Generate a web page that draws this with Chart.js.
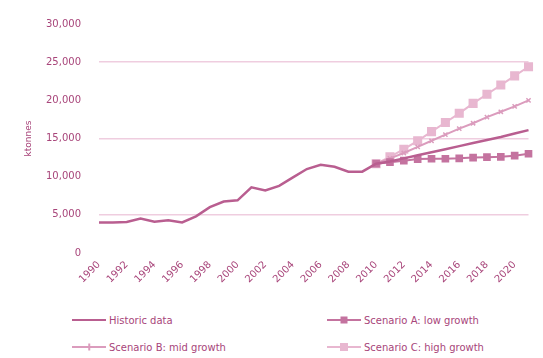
<!DOCTYPE html>
<html>
<head>
<meta charset="utf-8">
<script src="https://cdn.jsdelivr.net/npm/chart.js@4"></script>
<style>
  html, body { margin: 0; padding: 0; background: #fff; }
  #wrap { position: relative; width: 543px; height: 358px; }
  #chartBox { position: absolute; left: 0; top: 0; width: 543px; height: 305px; }
  #legend { position: absolute; left: 0; top: 305px; width: 543px; height: 53px;
            font: 10px "DejaVu Sans", sans-serif; color: #a8457a; }
  .item { position: absolute; display: flex; align-items: center; height: 14px; }
  .sample { position: relative; width: 34px; height: 14px; margin-right: 3px; }
  .sample .ln { position: absolute; left: 0; right: 0; top: 6px; height: 2px; }
  .sample .mk { position: absolute; left: 50%; top: 50%; transform: translate(-50%, -50%); }
</style>
</head>
<body>
<div id="wrap">
  <div id="chartBox"><canvas id="c"></canvas></div>
  <div id="legend"></div>
</div>
<script>
// Years on the category axis
const years = [1990, 1991, 1992, 1993, 1994, 1995, 1996, 1997, 1998, 1999,
               2000, 2001, 2002, 2003, 2004, 2005, 2006, 2007, 2008, 2009,
               2010, 2011, 2012, 2013, 2014, 2015, 2016, 2017, 2018, 2019,
               2020, 2021];

// Recorded values followed by the trend continuation
const trend = [4000, 4000, 4050, 4500, 4100, 4300, 4000, 4800, 6000, 6750,
               6900, 8600, 8200, 8800, 9900, 11000, 11550, 11300, 10650, 10650,
               11700, 12000, 12400, 12800, 13200, 13600, 14000, 14400, 14800, 15200,
               15650, 16100];

const lowGrowth = [null, null, null, null, null, null, null, null, null, null,
                   null, null, null, null, null, null, null, null, null, null,
                   11700, 11900, 12100, 12300, 12350, 12350, 12400, 12500, 12550, 12600,
                   12750, 13000];

const midGrowth = [null, null, null, null, null, null, null, null, null, null,
                   null, null, null, null, null, null, null, null, null, null,
                   11700, 12400, 13100, 13900, 14700, 15500, 16300, 17000, 17800, 18500,
                   19200, 20000];

const highGrowth = [null, null, null, null, null, null, null, null, null, null,
                    null, null, null, null, null, null, null, null, null, null,
                    11700, 12600, 13600, 14700, 15900, 17100, 18300, 19600, 20800, 22000,
                    23200, 24400];

const seriesNames = ["Historic data", "Scenario A: low growth",
                     "Scenario B: mid growth", "Scenario C: high growth"];

const yTicks = [0, 5000, 10000, 15000, 20000, 25000, 30000];
const yTitle = "ktonnes";

const textColor = "#a8457a";
const gridColor = "#efcddf";
const font = { family: "DejaVu Sans", size: 10 };

const datasets = [
  { label: seriesNames[0], data: trend, borderColor: "#b95e90", backgroundColor: "#b95e90",
    borderWidth: 2.5, pointRadius: 0, pointStyle: false, _marker: "none" },
  { label: seriesNames[1], data: lowGrowth, borderColor: "#c4739f", backgroundColor: "#c4739f",
    borderWidth: 2, pointStyle: "rect", pointRadius: 4, _marker: "square" },
  { label: seriesNames[2], data: midGrowth, borderColor: "#db9cbd", backgroundColor: "#db9cbd",
    borderWidth: 2, pointStyle: "crossRot", pointRadius: 3, pointBorderWidth: 1.5, _marker: "cross" },
  { label: seriesNames[3], data: highGrowth, borderColor: "#e8b7d0", backgroundColor: "#e8b7d0",
    borderWidth: 2, pointStyle: "rect", pointRadius: 5, _marker: "bigsquare" }
];

const chart = new Chart(document.getElementById("c"), {
  type: "line",
  data: { labels: years, datasets: datasets },
  options: {
    responsive: true,
    maintainAspectRatio: false,
    animation: false,
    spanGaps: false,
    layout: { padding: { left: 23, right: 12, top: 14, bottom: 0 } },
    plugins: { legend: { display: false }, tooltip: { enabled: false } },
    elements: { line: { tension: 0 } },
    scales: {
      x: {
        offset: false,
        grid: { display: false, drawTicks: false },
        border: { display: false },
        afterFit: s => { s.height = 52; },
        ticks: {
          autoSkip: false, maxRotation: 45, minRotation: 45, padding: 6,
          color: textColor, font: font,
          callback: function (v, i) { return i % 2 === 0 ? this.getLabelForValue(v) : ""; }
        }
      },
      y: {
        min: 0, max: 30000,
        afterBuildTicks: s => { s.ticks = yTicks.map(v => ({ value: v })); },
        afterFit: s => { s.width = 76; },
        grid: {
          drawTicks: false, lineWidth: 1.5,
          color: c => (c.tick && c.tick.value % 10000 === 5000) ? gridColor : "rgba(0,0,0,0)"
        },
        border: { display: false },
        ticks: { color: textColor, font: font, padding: 18,
                 callback: v => v.toLocaleString("en-US") },
        title: { display: true, text: yTitle, color: textColor, font: { family: "DejaVu Sans", size: 9 },
                 padding: { top: 0, bottom: 0 } }
      }
    }
  }
});

// Two-column legend built from the chart's datasets
const legend = document.getElementById("legend");
const slots = [[72, 8], [327, 8], [72, 35], [327, 35]];
chart.data.datasets.forEach((ds, i) => {
  const item = document.createElement("div");
  item.className = "item";
  item.style.left = slots[i][0] + "px";
  item.style.top = slots[i][1] + "px";
  const sample = document.createElement("span");
  sample.className = "sample";
  const ln = document.createElement("span");
  ln.className = "ln";
  ln.style.background = ds.borderColor;
  sample.appendChild(ln);
  if (ds._marker !== "none") {
    const mk = document.createElement("span");
    mk.className = "mk";
    if (ds._marker === "square" || ds._marker === "bigsquare") {
      const sz = ds._marker === "square" ? 7 : 8;
      mk.style.width = sz + "px";
      mk.style.height = sz + "px";
      mk.style.background = ds.backgroundColor;
    } else {
      mk.style.width = "1.5px";
      mk.style.height = "7px";
      mk.style.background = ds.borderColor;
    }
    sample.appendChild(mk);
  }
  const txt = document.createElement("span");
  txt.textContent = ds.label;
  item.appendChild(sample);
  item.appendChild(txt);
  legend.appendChild(item);
});
</script>
</body>
</html>
